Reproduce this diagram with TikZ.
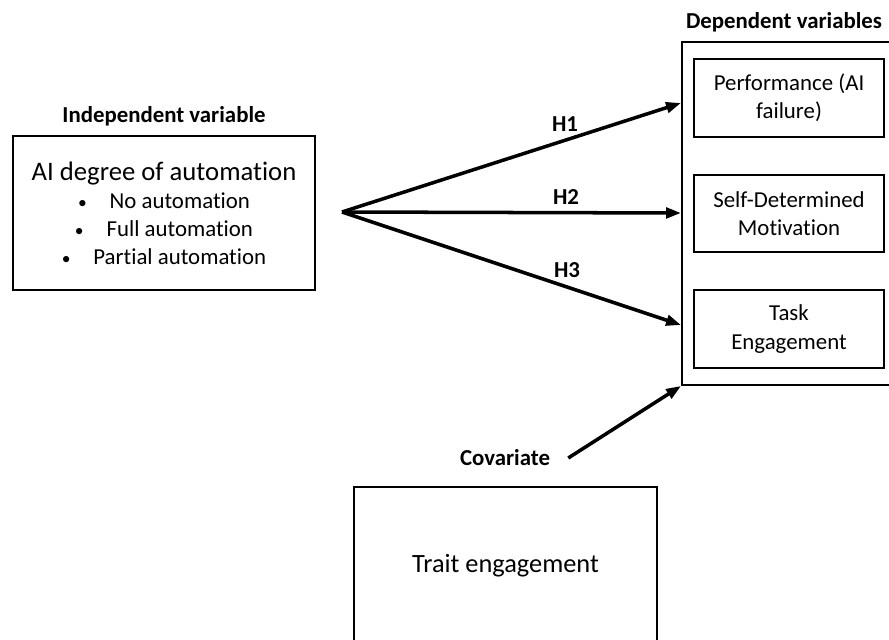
\documentclass[tikz,border=0pt]{standalone}
\usepackage{fontspec}
\setmainfont{Carlito}[Ligatures=NoCommon]
\usetikzlibrary{arrows.meta}

\newcommand{\bul}{{\fontsize{10}{16}\selectfont\textbullet}\hspace{13pt}}

\begin{document}
\begin{tikzpicture}[x=0.02cm, y=-0.02cm, thick]
                \tikzstyle{box}=[rectangle, draw, line width=1.1pt, inner sep=0pt, align=center, font=\fontsize{13}{16}\selectfont]
                \tikzstyle{heading}=[font=\bfseries\fontsize{13}{16}\selectfont, inner sep=2pt]
                \tikzstyle{hyp}=[line width=2pt, -{Triangle[length=8.5pt, width=6pt]}]

                \useasboundingbox (0, 0) rectangle (889, 639);

                \node[heading] (indep) at (164, 116) {Independent variable};
                \node[box, minimum width=6.04cm, minimum height=3.08cm] (auto) at (164, 213)
                    {{\fontsize{15.2}{18}\selectfont AI degree of automation}\\[0pt]
                     \bul No automation\\
                     \bul Full automation\\
                     \bul Partial automation};

                \node[heading] (dephead) at (784, 22) {Dependent variables};
                \node[box, minimum width=4.6cm, minimum height=6.86cm] (dep) at (797, 213.5) {};
                \node[box, minimum width=3.8cm, minimum height=1.56cm] (perf) at (789, 98) {Performance (AI\\failure)};
                \node[box, minimum width=3.8cm, minimum height=1.54cm] (motiv) at (789, 213.5) {Self-Determined\\Motivation};
                \node[box, minimum width=3.8cm, minimum height=1.56cm] (task) at (789, 329) {Task\\Engagement};

                \node[heading] (cov) at (505, 458) {Covariate};
                \node[box, font=\fontsize{15}{18}\selectfont, minimum width=6.06cm, minimum height=3.16cm] (trait) at (505.5, 566) {Trait engagement};

                \coordinate (src) at (342, 212);
                \coordinate (e1) at (681, 103);
                \coordinate (e2) at (681, 213);
                \coordinate (e3) at (681, 325);

                \node[heading] (h1) at (565, 124) {H1};
                \node[heading] (h2) at (566, 197) {H2};
                \node[heading] (h3) at (567, 270) {H3};

                \path[hyp] (src) edge (e1);
                \path[hyp] (src) edge (e2);
                \path[hyp] (src) edge (e3);
                \path[hyp] ([xshift=8pt]cov.east) edge (dep.south west);
            \end{tikzpicture}
\end{document}
